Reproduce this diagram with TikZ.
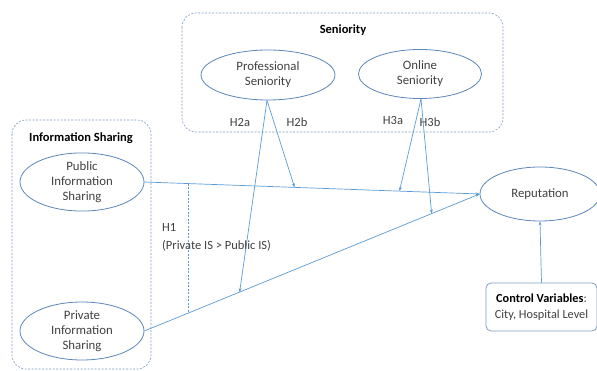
\documentclass[tikz,border=0pt]{standalone}
\usepackage{fontspec}
\setmainfont{Carlito}
\usetikzlibrary{shapes.geometric,arrows.meta,calc}
\definecolor{lineblue}{HTML}{5B9BD5}
\definecolor{elblue}{HTML}{5A86B8}
\definecolor{boxgray}{HTML}{7F9CC0}
\definecolor{txt}{HTML}{404040}
\tikzset{
  oval/.style={ellipse, draw=elblue, line width=0.8pt, inner sep=0pt, align=center, text=txt, font=\fontsize{12.8}{15}\selectfont},
  groupbox/.style={draw=boxgray, dash pattern=on 2pt off 1.5pt, rounded corners=14pt, line width=0.6pt},
  conn/.style={draw=lineblue, line width=0.7pt, -{Stealth[length=4pt,width=3pt]}},
  lbl/.style={text=txt, font=\fontsize{12.5}{18}\selectfont, inner sep=0pt},
  ttl/.style={text=black, font=\bfseries\fontsize{12.5}{15}\selectfont, inner sep=0pt}
}
\begin{document}
\begin{tikzpicture}[x=1pt,y=-1pt]
\useasboundingbox (0,0) rectangle (597,371);
% group boxes
\draw[groupbox] (12,120) rectangle (151,369);
\draw[groupbox] (182,13) rectangle (503,132);
\node[ttl] (tis) at (81,138) {Information Sharing};
\node[ttl] (tsen) at (343,30) {Seniority};
% ellipses
\node[oval, minimum width=124pt, minimum height=50pt] (pub) at (82,182) {Public\\Information\\Sharing};
\node[oval, minimum width=124pt, minimum height=52pt] (priv) at (82,331) {Private\\Information\\Sharing};
\node[oval, minimum width=134pt, minimum height=50pt] (prof) at (268,75) {Professional\\Seniority};
\node[oval, minimum width=123pt, minimum height=49pt] (onl) at (420,74) {Online\\Seniority};
\node[oval, minimum width=120pt, minimum height=54pt] (rep) at (540,194) {Reputation};
\node[draw=boxgray, rounded corners=5pt, line width=0.8pt, minimum width=111pt, minimum height=48pt, align=center, text=txt, font=\fontsize{12.3}{16}\selectfont, inner sep=0pt] (ctrl) at (541.5,307) {\textbf{\color{black}Control Variables}:\\City, Hospital Level};
% main connectors
\draw[conn] (pub.east) -- (rep.west);
\draw[conn] (priv.east) -- (rep.west);
\draw[conn] (ctrl.north) -- (rep.south);
% moderation targets
\coordinate (h2b) at ($(pub.east)!0.448!(rep.west)$);
\coordinate (h3a) at ($(pub.east)!0.761!(rep.west)$);
\coordinate (h2a) at ($(priv.east)!0.284!(rep.west)$);
\coordinate (h3b) at ($(priv.east)!0.857!(rep.west)$);
\coordinate (dtop) at ($(pub.east)!0.131!(rep.west)$);
\coordinate (dbot) at ($(priv.east)!0.131!(rep.west)$);
\draw[conn] ([xshift=-1pt]prof.south) -- (h2a);
\draw[conn] ([xshift=-1pt]prof.south) -- (h2b);
\draw[conn] ([xshift=1pt]onl.south) -- (h3a);
\draw[conn] ([xshift=1pt]onl.south) -- (h3b);
\draw[draw=lineblue, dash pattern=on 2pt off 1.5pt, line width=0.6pt] (dtop) -- (dbot);
% labels
\node[lbl] (l2a) at (240,122) {H2a};
\node[lbl] (l2b) at (297,122) {H2b};
\node[lbl] (l3a) at (393,120) {H3a};
\node[lbl] (l3b) at (430,122) {H3b};
\node[lbl, anchor=west, align=left] (lh1) at (162,237) {H1\\(Private IS > Public IS)};
\end{tikzpicture}
\end{document}
